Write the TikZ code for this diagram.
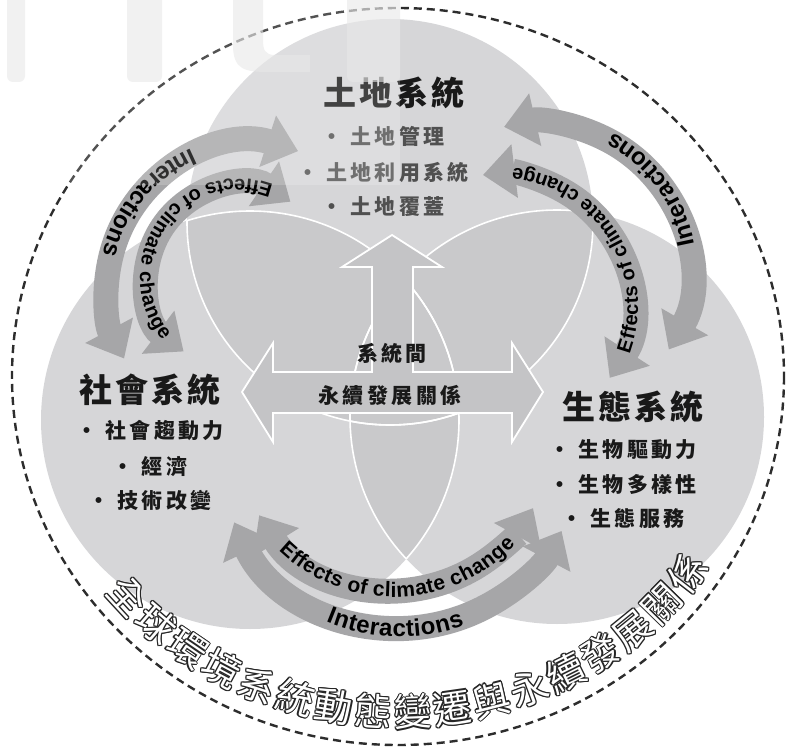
\documentclass[tikz,border=0pt]{standalone}
\usepackage{fontspec}
\usetikzlibrary{arrows.meta,decorations.text}
\newfontfamily\cjkT{Noto Sans CJK TC}[LetterSpace=10]
\newfontfamily\cjkI{Noto Sans CJK TC}[LetterSpace=16]
\newfontfamily\cjkA{Noto Sans CJK TC}
\newfontfamily\lat{Liberation Sans}
\definecolor{cg}{RGB}{214,214,216}
\definecolor{cgo}{RGB}{201,201,203}
\definecolor{bandc}{RGB}{166,166,168}
\definecolor{tarrow}{RGB}{196,196,198}
\definecolor{dashc}{RGB}{45,45,45}
\definecolor{txt}{RGB}{25,25,25}
\definecolor{topitem}{RGB}{80,80,80}
\begin{document}
\begin{tikzpicture}[x=1pt,y=-1pt,
  title/.style={inner sep=0pt, text=txt, font=\cjkT\bfseries\fontsize{33}{36}\selectfont},
  item/.style={inner sep=0pt, text=txt, font=\cjkI\bfseries\fontsize{21}{24}\selectfont},
  wline/.style={draw=white, line width=1.6pt},
  band/.style={draw=bandc, line width=25pt,
    {Triangle[width=52pt 0,length=32pt 0]}-{Triangle[width=52pt 0,length=32pt 0]}},
  wm/.style={fill=black!9, opacity=0.6}]
\useasboundingbox (0,0) rectangle (787,749);
\fill[white] (0,0) rectangle (787,749);
% circles
\coordinate (cT) at (390,222);
\coordinate (cL) at (250,420);
\coordinate (cR) at (557,417);
\fill[cg] (cT) circle[radius=203];
\fill[cg] (cL) circle[radius=209];
\fill[cg] (cR) circle[radius=207];
\begin{scope}
  \clip (cT) circle[radius=203];
  \fill[cgo] (cL) circle[radius=209];
  \fill[cgo] (cR) circle[radius=207];
\end{scope}
\begin{scope}
  \clip (cL) circle[radius=209];
  \fill[cgo] (cR) circle[radius=207];
\end{scope}
\begin{scope}
  \clip (cT) circle[radius=203];
  \draw[wline] (cL) circle[radius=209] (cR) circle[radius=207];
\end{scope}
\begin{scope}
  \clip (cL) circle[radius=209];
  \draw[wline] (cT) circle[radius=203] (cR) circle[radius=207];
\end{scope}
\begin{scope}
  \clip (cR) circle[radius=207];
  \draw[wline] (cT) circle[radius=203] (cL) circle[radius=209];
\end{scope}
% central arrow
\draw[white, line width=1.8pt, fill=tarrow, line join=miter]
  (392,235) -- (442,267) -- (413,267) -- (413,372) -- (512,372) -- (512,343)
  -- (543,392) -- (512,442) -- (512,413) -- (273,413) -- (273,442) -- (242,392)
  -- (273,343) -- (273,372) -- (372,372) -- (372,267) -- (342,267) -- cycle;
% bands
\draw[band] (253,290) ++(288:146) arc[start angle=288, end angle=152, radius=146];
\draw[band] (239,278) ++(304:92) arc[start angle=304, end angle=127, radius=92];
\draw[band] (538,274) ++(30:151) arc[start angle=30, end angle=-103, radius=151];
\draw[band] (499,306) ++(33:132) arc[start angle=33, end angle=-97, radius=132];
\draw[band] (394,431) ++(148:159) arc[start angle=148, end angle=29, radius=159];
\draw[band] (400,445) ++(155:183) arc[start angle=155, end angle=28, radius=183];
% band texts
\path[decorate, decoration={text along path, text align=center, raise=-8.5pt,
  text={|\lat\bfseries\fontsize{24}{24}\selectfont|Interactions}}]
  (253,290) ++(288:146) arc[start angle=288, end angle=152, radius=146];
\path[decorate, decoration={text along path, text align=center, raise=-7pt,
  text={|\lat\bfseries\fontsize{20}{20}\selectfont|Effects of climate change}}]
  (239,278) ++(304:92) arc[start angle=304, end angle=127, radius=92];
\path[decorate, decoration={text along path, text align=center, raise=-8.5pt,
  text={|\lat\bfseries\fontsize{24}{24}\selectfont|Interactions}}]
  (538,274) ++(30:151) arc[start angle=30, end angle=-103, radius=151];
\path[decorate, decoration={text along path, text align=center, raise=-7pt,
  text={|\lat\bfseries\fontsize{20}{20}\selectfont|Effects of climate change}}]
  (499,306) ++(33:132) arc[start angle=33, end angle=-97, radius=132];
\path[decorate, decoration={text along path, text align=center, raise=-7pt,
  text={|\lat\bfseries\fontsize{21}{21}\selectfont|Effects of climate change}}]
  (394,431) ++(148:159) arc[start angle=148, end angle=29, radius=159];
\path[decorate, decoration={text along path, text align=center, raise=-8.5pt,
  text={|\lat\bfseries\fontsize{24}{24}\selectfont|Interactions}}]
  (400,445) ++(155:183) arc[start angle=155, end angle=28, radius=183];
% texts
\node[title] (tT) at (394,93) {土地系統};
\node[item, text=topitem] (tT1) at (383,136) {• 土地管理};
\node[item, text=topitem] (tT2) at (383,172) {• 土地利用系統};
\node[item, text=topitem] (tT3) at (383,207) {• 土地覆蓋};
\node[title] (tL) at (150,390) {社會系統};
\node[item] (tL1) at (150,430) {• 社會趨動力};
\node[item] (tL2) at (150,467) {• 經濟};
\node[item] (tL3) at (150,500) {• 技術改變};
\node[title] (tR) at (633,407) {生態系統};
\node[item] (tR1) at (623,450) {• 生物驅動力};
\node[item] (tR2) at (623,484) {• 生物多樣性};
\node[item] (tR3) at (623,519) {• 生態服務};
\node[item] (tC1) at (392,353) {系統間};
\node[item] (tC2) at (390,395) {永續發展關係};
% outer dashed ellipse
\draw[dashc, line width=2.4pt, dash pattern=on 8pt off 5pt]
  (398,376.5) ellipse[x radius=386, y radius=368.5];
% curved bottom title: white with dark outline (offset copies)
\foreach \dx/\dy in {1.2/0,-1.2/0,0/1.2,0/-1.2,0.85/0.85,-0.85/0.85,0.85/-0.85,-0.85/-0.85}{
\path[decorate, shift={(\dx,\dy)}, decoration={text along path, text align=fit to path,
  text={|\cjkA\fontsize{38}{38}\selectfont\color{black!85}|全球環境系統動態變遷與永續發展關係}}]
  (398,376.5) ++(142:372 and 350) arc[start angle=142, end angle=33, x radius=372, y radius=350];
}
\path[decorate, decoration={text along path, text align=fit to path,
  text={|\cjkA\fontsize{38}{38}\selectfont\color{white}|全球環境系統動態變遷與永續發展關係}}]
  (398,376.5) ++(142:372 and 350) arc[start angle=142, end angle=33, x radius=372, y radius=350];
% watermark
\fill[white, opacity=0.18] (0,0) rectangle (400,185);
\fill[wm, rounded corners=6pt] (7,-10) rectangle (25,82);
\fill[wm, rounded corners=6pt] (127,-10) rectangle (162,82);
\fill[wm] (233,-10) -- (233,45) .. controls (233,70) and (245,72) .. (270,72) -- (310,72)
  -- (310,55) -- (275,55) .. controls (265,55) and (263,50) .. (263,40) -- (263,-10) -- cycle;
\fill[wm, rounded corners=6pt] (347,-10) rectangle (400,82);
\end{tikzpicture}
\end{document}
